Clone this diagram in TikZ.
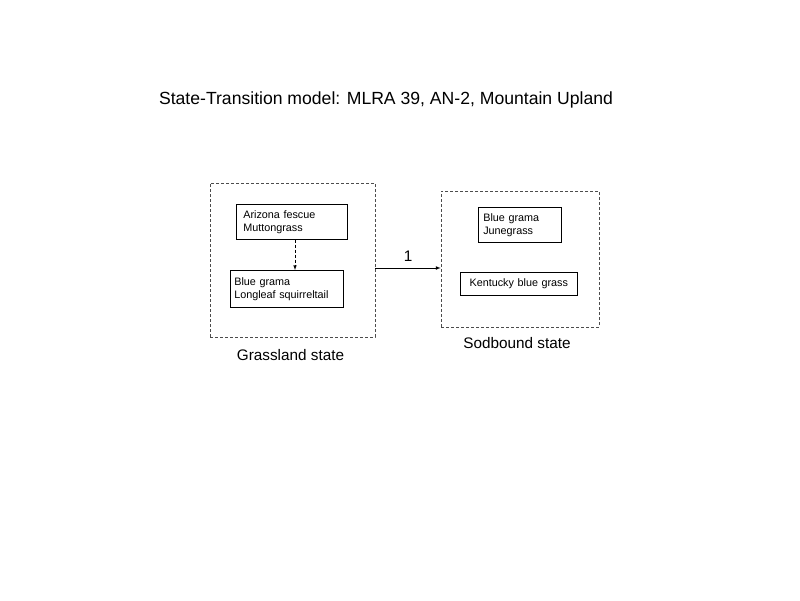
\documentclass[tikz,border=0pt]{standalone}
\usepackage{fontspec}
\setmainfont{Liberation Sans}
\usetikzlibrary{arrows,positioning}

\begin{document}
\begin{tikzpicture}[%
    x=1pt, y=-1pt,              % pixel-like coordinates, top-down
    >=latex,                    % small filled arrow heads
    ]
% -------------------------------------------------
% A few box styles
\tikzset{
  state/.style={draw, densely dashed, line width=0.6pt, gray!60!black},
  species/.style={draw, line width=0.6pt, align=left, anchor=north west,
    inner sep=0pt, font=\fontsize{10.8}{13}\selectfont},
  tag/.style={font=\fontsize{15.3}{17}\selectfont},
  trans/.style={->, line width=0.7pt},
  pathway/.style={->, densely dashed, line width=0.6pt}
}
\useasboundingbox (0,0) rectangle (800,600);
% -------------------------------------------------
% Title
\node [font=\fontsize{17.6}{20}\selectfont] (title) at (386,100)
  {State-Transition model: MLRA 39, AN-2, Mountain Upland};

% Grassland state
\node [state, minimum width=165, minimum height=154] (grass) at (292.5,260) {};
\node [species, text width=111, minimum height=35]
  (fescue) at (236,204)
  {\hspace*{7pt}Arizona fescue\\\hspace*{7pt}Muttongrass};
\node [species, text width=113, minimum height=37]
  (grama) at (230,270)
  {\hspace*{4pt}Blue grama\\\hspace*{4pt}Longleaf squirreltail};
\node [tag, below = 9pt of grass, xshift=-2pt] (grasslbl) {Grassland state};

% Sodbound state
\node [state, minimum width=158, minimum height=136] (sod) at (520,259) {};
\node [species, text width=83, minimum height=35]
  (june) at (478,207)
  {\hspace*{5pt}Blue grama\\\hspace*{5pt}Junegrass};
\node [species, text width=117, minimum height=23, align=center]
  (kbg) at (460,272) {Kentucky blue grass};
\node [tag, below = 7pt of sod, xshift=-3pt] (sodlbl) {Sodbound state};

% -------------------------------------------------
\draw[pathway] (fescue.south -| 295,0) -- (grama.north -| 295,0);
\draw[trans] (grass.east |- 0,268) -- node[above, tag, yshift=3pt] {1} (sod.west |- 0,268);
% -------------------------------------------------
\end{tikzpicture}
\end{document}
